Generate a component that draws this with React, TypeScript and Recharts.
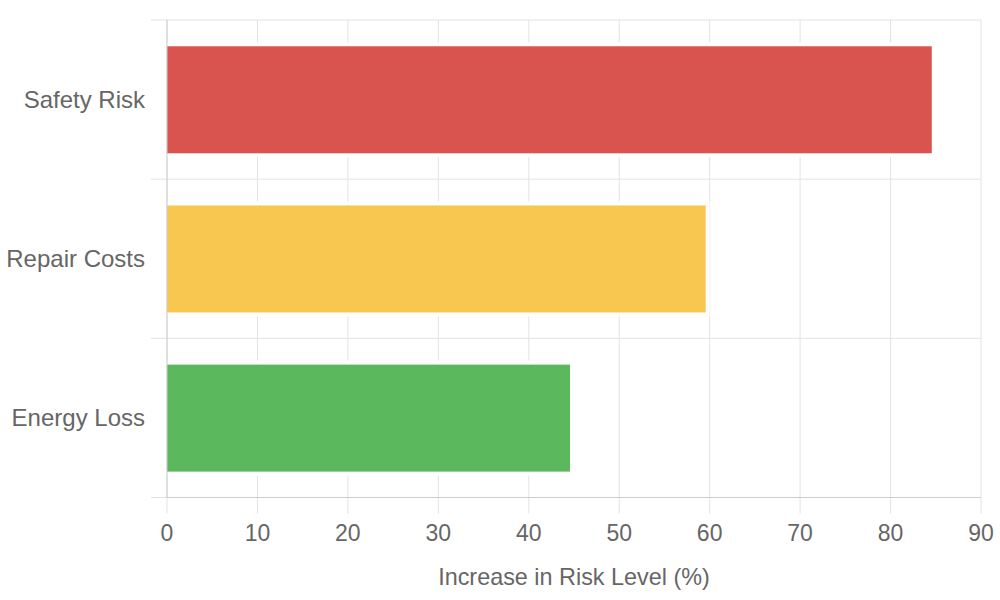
import { BarChart, Bar, XAxis, YAxis, CartesianGrid, Cell } from 'recharts'

const categories = ['Safety Risk', 'Repair Costs', 'Energy Loss']
const riskIncrease = [85, 60, 45]
const barColors = ['#d9534f', '#f8c750', '#5cb85c']
const xTicks = [0, 10, 20, 30, 40, 50, 60, 70, 80, 90]

const data = categories.map((name, i) => ({ name, value: riskIncrease[i] }))

const FONT = '"Helvetica Neue", Helvetica, Arial, "Liberation Sans", sans-serif'
const GRID = '#e3e3e3'
const AXIS = '#cccccc'
const BORDER = 4

// chart.js style bar: white border on top/right/bottom, skipped at the base
function BorderedBar(props: any) {
  const { x, y, width, height, fill } = props
  if (!width || width <= 0) return null
  return (
    <g>
      <rect x={x} y={y} width={width} height={height} fill="#fff" />
      <rect
        x={x}
        y={y + BORDER}
        width={Math.max(0, width - BORDER)}
        height={Math.max(0, height - BORDER * 2)}
        fill={fill}
      />
    </g>
  )
}

export default function App() {
  return (
    <div style={{ position: 'absolute', left: 0, top: 0, fontFamily: FONT }}>
      <BarChart
        width={1000}
        height={600}
        data={data}
        layout="vertical"
        margin={{ top: 20, right: 19, left: 0, bottom: 0 }}
        barCategoryGap="14%"
      >
        <CartesianGrid
          stroke={GRID}
          horizontalCoordinatesGenerator={({ offset }: any) =>
            categories.map((_, i) => offset.top + (i * offset.height) / categories.length).concat(offset.top + offset.height)
          }
          horizontal={(p: any) => (
            <line key={p.key} x1={p.x1 - 16} x2={p.x2} y1={p.y1} y2={p.y2} stroke={GRID} strokeWidth={1} />
          )}
          vertical={(p: any) => (
            <line key={p.key} x1={p.x1} x2={p.x2} y1={p.y1} y2={p.y2 + 16} stroke={GRID} strokeWidth={1} />
          )}
        />
        <XAxis
          type="number"
          domain={[0, 90]}
          ticks={xTicks}
          interval={0}
          height={102.5}
          axisLine={{ stroke: AXIS }}
          tickLine={false}
          tickSize={0}
          tickMargin={27}
          tick={{ fill: '#666', fontSize: 23, fontFamily: FONT }}
          label={{
            value: 'Increase in Risk Level (%)',
            position: 'insideBottom',
            offset: 15,
            fill: '#666',
            fontSize: 23.4,
            fontFamily: FONT,
          }}
        />
        <YAxis
          type="category"
          dataKey="name"
          width={167}
          axisLine={{ stroke: AXIS }}
          tickLine={false}
          tickSize={0}
          tickMargin={22}
          tick={{ fill: '#666', fontSize: 24, fontFamily: FONT }}
        />
        <Bar dataKey="value" isAnimationActive={false} shape={<BorderedBar />}>
          {data.map((d, i) => (
            <Cell key={d.name} fill={barColors[i]} />
          ))}
        </Bar>
      </BarChart>
    </div>
  )
}
